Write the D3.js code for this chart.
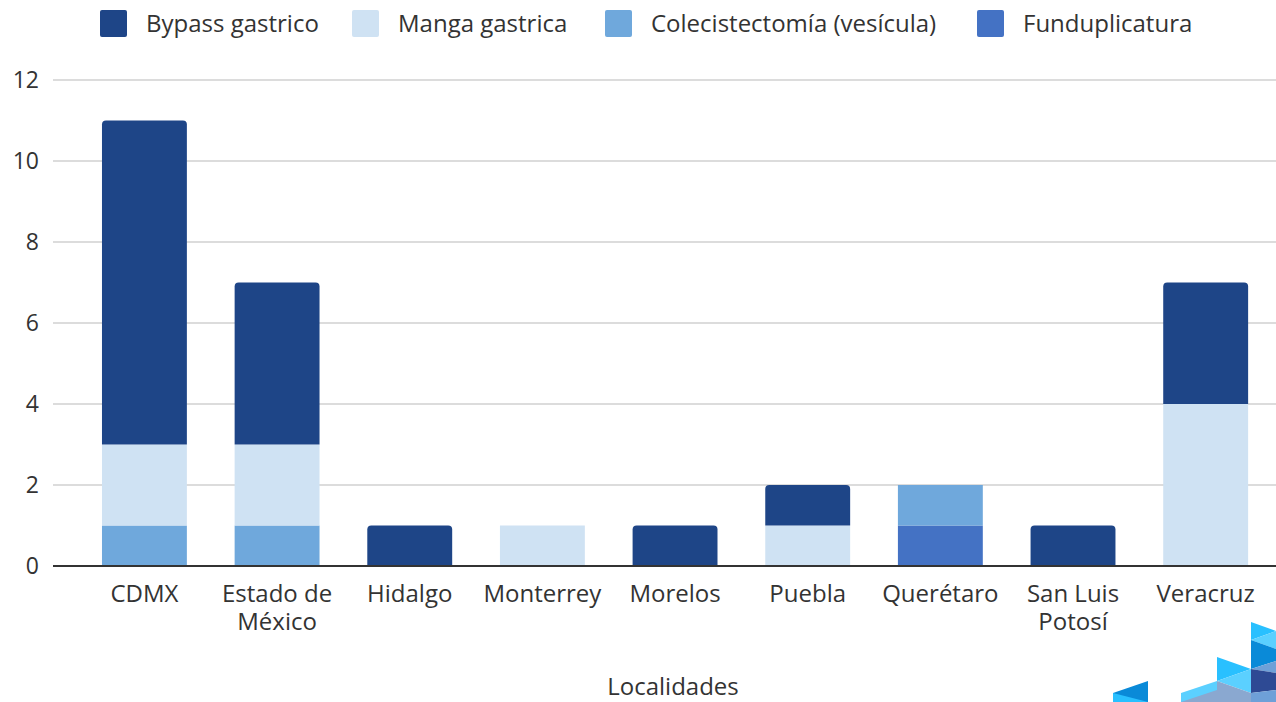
<!DOCTYPE html>
<html>
<head>
<meta charset="utf-8">
<script src="https://cdn.jsdelivr.net/npm/d3@7"></script>
<style>
  html, body { margin: 0; padding: 0; background: #fff; }
  svg { display: block; font-family: "Open Sans", "Noto Sans", sans-serif; }
</style>
</head>
<body>
<svg id="chart" width="1276" height="702"></svg>
<script>
const categories = ["CDMX", "Estado de México", "Hidalgo", "Monterrey", "Morelos", "Puebla", "Querétaro", "San Luis Potosí", "Veracruz"];
const categoryLines = [["CDMX"], ["Estado de", "México"], ["Hidalgo"], ["Monterrey"], ["Morelos"], ["Puebla"], ["Querétaro"], ["San Luis", "Potosí"], ["Veracruz"]];
const seriesNames = ["Bypass gastrico", "Manga gastrica", "Colecistectomía (vesícula)", "Funduplicatura"];
const bypass = [8, 4, 1, 0, 1, 1, 0, 1, 3];
const manga = [2, 2, 0, 1, 0, 1, 0, 0, 4];
const colecistectomia = [1, 1, 0, 0, 0, 0, 1, 0, 0];
const funduplicatura = [0, 0, 0, 0, 0, 0, 1, 0, 0];
const yTicks = [0, 2, 4, 6, 8, 10, 12];
const colors = ["#1e4587", "#cfe2f3", "#6fa8dc", "#4472c4"];
const xTitle = "Localidades";

const svg = d3.select("#chart");
const W = 1276, H = 702;
const FS = 24;

const rows = categories.map((c, i) => ({
  cat: c,
  "Funduplicatura": funduplicatura[i],
  "Colecistectomía (vesícula)": colecistectomia[i],
  "Manga gastrica": manga[i],
  "Bypass gastrico": bypass[i]
}));
const stackKeys = ["Funduplicatura", "Colecistectomía (vesícula)", "Manga gastrica", "Bypass gastrico"];
const stacked = d3.stack().keys(stackKeys)(rows);
const color = d3.scaleOrdinal().domain(seriesNames).range(colors);

const x = d3.scaleBand().domain(categories).range([78.1, 1272]).paddingInner(0.36).paddingOuter(0.18);
const y = d3.scaleLinear().domain([0, 12]).range([566, 80]);

// gridlines
svg.append("g").selectAll("line").data(yTicks.filter(d => d > 0)).join("line")
  .attr("x1", 53).attr("x2", W)
  .attr("y1", d => y(d)).attr("y2", d => y(d))
  .attr("stroke", "#d0d0d0").attr("stroke-width", 1.5);

// y tick labels
svg.append("g").selectAll("text").data(yTicks).join("text")
  .attr("x", 39).attr("y", d => y(d)).attr("dy", "0.35em")
  .attr("text-anchor", "end").attr("font-size", 23).attr("fill", "#333")
  .text(d => d);

const topKey = categories.map((c, i) => {
  let k = null;
  stacked.forEach(s => { if (s[i][1] - s[i][0] > 0) k = s.key; });
  return k;
});

function roundedTop(x0, y0, w, h, r) {
  r = Math.min(r, h, w / 2);
  return `M${x0},${y0 + h}V${y0 + r}Q${x0},${y0} ${x0 + r},${y0}H${x0 + w - r}Q${x0 + w},${y0} ${x0 + w},${y0 + r}V${y0 + h}Z`;
}

stacked.forEach(s => {
  svg.append("g").selectAll("path").data(s.map((d, i) => ({ d, i })).filter(o => o.d[1] - o.d[0] > 0)).join("path")
    .attr("fill", color(s.key))
    .attr("d", o => {
      const x0 = x(categories[o.i]);
      const y0 = y(o.d[1]);
      const h = y(o.d[0]) - y(o.d[1]);
      const isTop = topKey[o.i] === s.key && s.key === "Bypass gastrico";
      return roundedTop(x0, y0, x.bandwidth(), h, isTop ? 4 : 0);
    });
});

// baseline
svg.append("line").attr("x1", 53).attr("x2", W).attr("y1", y(0)).attr("y2", y(0))
  .attr("stroke", "#333").attr("stroke-width", 2);

// x labels
const xl = svg.append("g").selectAll("text").data(categories).join("text")
  .attr("x", d => x(d) + x.bandwidth() / 2)
  .attr("y", 602)
  .attr("text-anchor", "middle").attr("font-size", FS).attr("fill", "#333");
xl.each(function(d, i) {
  categoryLines[i].forEach((line, j) => {
    d3.select(this).append("tspan").attr("x", x(d) + x.bandwidth() / 2).attr("dy", j === 0 ? 0 : 28).text(line);
  });
});

// axis title
svg.append("text").attr("x", 673).attr("y", 695).attr("text-anchor", "middle")
  .attr("font-size", FS).attr("fill", "#333").text(xTitle);

// legend
const legendX = [100, 352, 605, 977];
const lg = svg.append("g").selectAll("g").data(seriesNames).join("g")
  .attr("transform", (d, i) => `translate(${legendX[i]},10)`);
lg.append("rect").attr("width", 27).attr("height", 27).attr("rx", 2).attr("fill", d => color(d));
lg.append("text").attr("x", 46).attr("y", 14).attr("dy", "0.35em")
  .attr("font-size", FS).attr("fill", "#333").text(d => d);

// decorative logo triangles (bottom right)
const logo = [
  { p: [[1113, 693], [1148, 681], [1148, 702], [1113, 702]], c: "#0a8ad8" },
  { p: [[1113, 693], [1148, 702], [1113, 702]], c: "#29c0ff" },
  { p: [[1181, 693], [1217, 681], [1217, 702], [1181, 702]], c: "#5bd0ff" },
  { p: [[1181, 702], [1217, 690], [1217, 702]], c: "#8aa8d0" },
  { p: [[1217, 657], [1251, 669], [1217, 681]], c: "#29c0ff" },
  { p: [[1217, 681], [1251, 669], [1251, 693]], c: "#5bd0ff" },
  { p: [[1217, 681], [1251, 693], [1251, 702], [1217, 702]], c: "#8aa8d0" },
  { p: [[1251, 622], [1276, 631], [1251, 640]], c: "#29c0ff" },
  { p: [[1251, 640], [1276, 631], [1276, 649]], c: "#5bd0ff" },
  { p: [[1251, 640], [1276, 649], [1276, 661], [1251, 669]], c: "#0a8ad8" },
  { p: [[1251, 669], [1276, 661], [1276, 673]], c: "#6ea0d8" },
  { p: [[1251, 669], [1276, 673], [1276, 690], [1251, 693]], c: "#2e4a94" },
  { p: [[1251, 693], [1276, 690], [1276, 702], [1251, 702]], c: "#6ea0d8" }
];
svg.append("g").selectAll("polygon").data(logo).join("polygon")
  .attr("points", d => d.p.map(q => q.join(",")).join(" "))
  .attr("fill", d => d.c);
</script>
</body>
</html>
